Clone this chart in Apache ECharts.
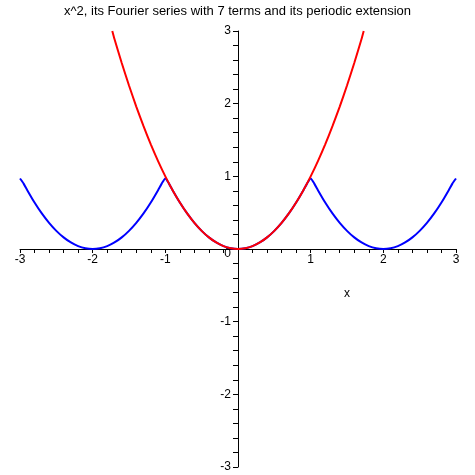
<!DOCTYPE html>
<html>
<head>
<meta charset="utf-8">
<script src="https://cdn.jsdelivr.net/npm/echarts@6/dist/echarts.min.js"></script>
<style>html,body{margin:0;padding:0;background:#fff}#c{width:475px;height:475px}</style>
</head>
<body>
<div id="c"></div>
<script>
var titleText = 'x^2, its Fourier series with 7 terms and its periodic extension';
var axisName = 'x';
var xTicks = [-3, -2, -1, 0, 1, 2, 3];
var yTicks = [-3, -2, -1, 0, 1, 2, 3];

// x^2 (red)
var parabolaX = [-1.73, -1.7, -1.6, -1.5, -1.4, -1.3, -1.2, -1.1, -1.0, -0.9, -0.8, -0.7, -0.6, -0.5, -0.4, -0.3, -0.2, -0.1, 0,
                 0.1, 0.2, 0.3, 0.4, 0.5, 0.6, 0.7, 0.8, 0.9, 1.0, 1.1, 1.2, 1.3, 1.4, 1.5, 1.6, 1.7, 1.73];
var parabolaY = [3.0, 2.89, 2.56, 2.25, 1.96, 1.69, 1.44, 1.21, 1.0, 0.81, 0.64, 0.49, 0.36, 0.25, 0.16, 0.09, 0.04, 0.01, 0,
                 0.01, 0.04, 0.09, 0.16, 0.25, 0.36, 0.49, 0.64, 0.81, 1.0, 1.21, 1.44, 1.69, 1.96, 2.25, 2.56, 2.89, 3.0];

// Fourier series, periodic extension (blue)
var fourierX = [-3, -2.95, -2.9, -2.8, -2.7, -2.6, -2.5, -2.4, -2.3, -2.2, -2.1, -2.0, -1.9, -1.8, -1.7, -1.6, -1.5, -1.4, -1.3, -1.2, -1.1, -1.05,
                -1.0, -0.95, -0.9, -0.8, -0.7, -0.6, -0.5, -0.4, -0.3, -0.2, -0.1, 0,
                0.1, 0.2, 0.3, 0.4, 0.5, 0.6, 0.7, 0.8, 0.9, 0.95, 1.0,
                1.05, 1.1, 1.2, 1.3, 1.4, 1.5, 1.6, 1.7, 1.8, 1.9, 2.0, 2.1, 2.2, 2.3, 2.4, 2.5, 2.6, 2.7, 2.8, 2.9, 2.95, 3];
var fourierY = [0.97, 0.90, 0.81, 0.64, 0.49, 0.36, 0.25, 0.16, 0.09, 0.04, 0.01, 0.0, 0.01, 0.04, 0.09, 0.16, 0.25, 0.36, 0.49, 0.64, 0.81, 0.90,
                0.97, 0.90, 0.81, 0.64, 0.49, 0.36, 0.25, 0.16, 0.09, 0.04, 0.01, 0.0,
                0.01, 0.04, 0.09, 0.16, 0.25, 0.36, 0.49, 0.64, 0.81, 0.90, 0.97,
                0.90, 0.81, 0.64, 0.49, 0.36, 0.25, 0.16, 0.09, 0.04, 0.01, 0.0, 0.01, 0.04, 0.09, 0.16, 0.25, 0.36, 0.49, 0.64, 0.81, 0.90, 0.97];

function pairs(xs, ys) { return xs.map(function (x, i) { return [x, ys[i]]; }); }

var chart = echarts.init(document.getElementById('c'), null, { renderer: 'canvas' });
var font = 'Arial, "Liberation Sans", sans-serif';
var gridW = 436, gridH = 436;
chart.setOption({
  animation: false,
  backgroundColor: '#ffffff',
  textStyle: { fontFamily: font },
  title: {
    text: titleText, left: 'center', top: 0,
    textStyle: { fontSize: 13, fontWeight: 'normal', color: '#000', fontFamily: font }
  },
  grid: { left: 20, right: 19, top: 31, bottom: 8, containLabel: false },
  xAxis: {
    type: 'value', min: xTicks[0], max: xTicks[xTicks.length - 1], interval: 1,
    position: 'bottom', offset: -gridH / 2,
    axisLine: { onZero: false, lineStyle: { color: '#000', width: 1 } },
    axisTick: { show: true, length: 4, inside: false, lineStyle: { color: '#000' } },
    minorTick: { show: true, splitNumber: 5, length: 4, lineStyle: { color: '#000' } },
    splitLine: { show: false },
    axisLabel: {
      color: '#000', fontSize: 12, margin: 5, fontFamily: font,
      formatter: function (v) { return v === 0 ? '' : String(v); }
    }
  },
  yAxis: {
    type: 'value', min: yTicks[0], max: yTicks[yTicks.length - 1], interval: 1,
    position: 'left', offset: -gridW / 2,
    axisLine: { onZero: false, lineStyle: { color: '#000', width: 1 } },
    axisTick: { show: true, length: 5, inside: false, lineStyle: { color: '#000' } },
    minorTick: { show: true, splitNumber: 5, length: 5, lineStyle: { color: '#000' } },
    splitLine: { show: false },
    axisLabel: {
      color: '#000', fontSize: 12, margin: 7, fontFamily: font,
      formatter: function (v) { return v === 0 ? '{z|0}' : String(v); },
      rich: { z: { fontSize: 12, color: '#000', padding: [10, 0, 0, 0], fontFamily: font } }
    }
  },
  graphic: [{
    type: 'text', left: 344, top: 288,
    style: { text: axisName, fontSize: 12, fill: '#000', font: '12px ' + font }
  }],
  series: [
    {
      type: 'line', data: pairs(fourierX, fourierY), showSymbol: false, smooth: 0.2,
      lineStyle: { color: '#0000ff', width: 2 }, z: 2
    },
    {
      type: 'line', data: pairs(parabolaX, parabolaY), showSymbol: false, smooth: 0.2,
      lineStyle: { color: '#ff0000', width: 2 }, z: 3
    }
  ]
});
</script>
</body>
</html>
